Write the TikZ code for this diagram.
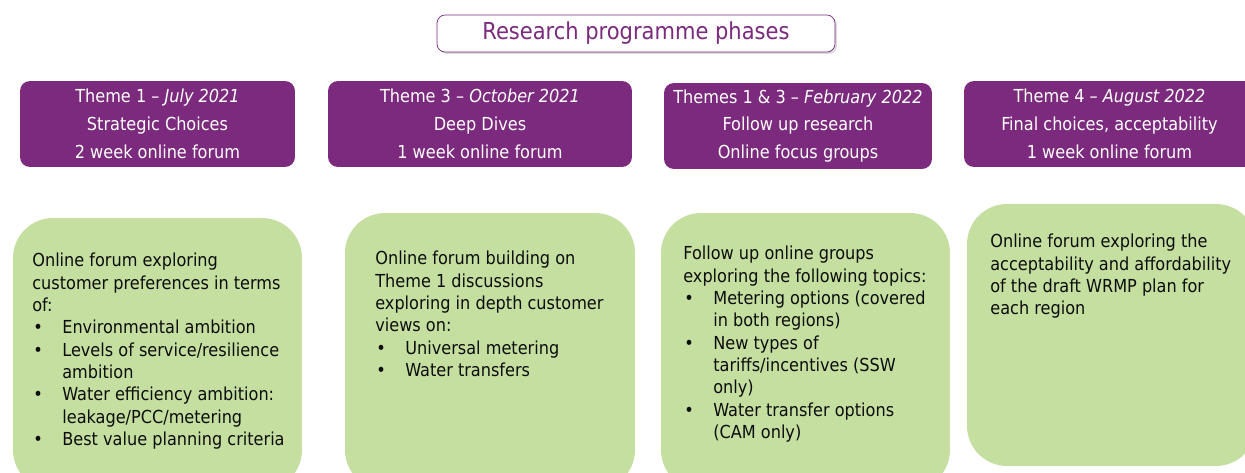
\documentclass[tikz,border=0pt]{standalone}
\usepackage{fontspec}
\setmainfont{DejaVu Sans Condensed}
\usepackage{tikz}
\usetikzlibrary{positioning, shadows}

\definecolor{phasepurple}{HTML}{7B2A7E}
\definecolor{notegreen}{HTML}{C4DFA0}
\newcommand{\bul}{\makebox[0.6cm][l]{\hspace{0.02cm}\textbullet}}
\newcommand{\ind}{\hspace*{0.6cm}}

\tikzset{
    phase/.style={fill=phasepurple, rounded corners=0.2cm, text=white, align=center,
        font=\fontsize{10.2}{15.9}\selectfont, minimum height=1.72cm},
    note/.style={fill=notegreen, rounded corners=0.8cm},
    notetext/.style={anchor=north west, inner sep=0pt, align=left, text=black!95,
        font=\fontsize{10.2}{12.7}\selectfont}
}

\begin{document}
\begin{tikzpicture}[x=0.02cm, y=-0.02cm]
        \useasboundingbox (0,0) rectangle (1245,473);
        \clip (0,0) rectangle (1245,473);

        % title
        \node[draw=phasepurple, fill=white, rounded corners=0.16cm, minimum width=7.96cm,
            minimum height=0.74cm, text=phasepurple, font=\fontsize{13.3}{15}\selectfont,
            drop shadow={shadow xshift=0.04cm, shadow yshift=-0.04cm, opacity=0.3}]
            (title) at (636,33.5) {Research programme phases};

        % phases
        \node[phase, minimum width=5.5cm] (th1) at (157.5,124)
            {Theme 1 -- \textit{July 2021}\\Strategic Choices\\2 week online forum};
        \node[phase, minimum width=6.08cm] (th3) at (480,124)
            {Theme 3 -- \textit{October 2021}\\Deep Dives\\1 week online forum};
        \node[phase, minimum width=5.36cm] (th13) at (798,126)
            {Themes 1 \& 3 -- \textit{February 2022}\\Follow up research\\Online focus groups};
        \node[phase, minimum width=5.82cm] (th4) at (1109.5,124)
            {Theme 4 -- \textit{August 2022}\\Final choices, acceptability\\1 week online forum};

        % green boxes
        \node[note, minimum width=5.78cm, minimum height=5.44cm] (g1) at (157.5,354) {};
        \node[note, minimum width=5.8cm, minimum height=5.54cm] (g3) at (490,351.5) {};
        \node[note, minimum width=5.78cm, minimum height=5.54cm] (g13) at (805.5,351.5) {};
        \node[note, minimum width=5.78cm, minimum height=5.24cm] (g4) at (1111.5,335) {};

        % texts
        \node[notetext] (n1) at (32,253) {Online forum exploring\\customer preferences in terms\\of:\\
            \bul Environmental ambition\\\bul Levels of service/resilience\\\ind ambition\\
            \bul Water efficiency ambition:\\\ind leakage/PCC/metering\\\bul Best value planning criteria};
        \node[notetext] (n3) at (375,251) {Online forum building on\\Theme 1 discussions\\
            exploring in depth customer\\views on:\\\bul Universal metering\\\bul Water transfers};
        \node[notetext] (n13) at (683,246) {Follow up online groups\\exploring the following topics:\\
            \bul Metering options (covered\\\ind in both regions)\\\bul New types of\\
            \ind tariffs/incentives (SSW\\\ind only)\\\bul Water transfer options\\\ind (CAM only)};
        \node[notetext] (n4) at (990,234) {Online forum exploring the\\acceptability and affordability\\
            of the draft WRMP plan for\\each region};
\end{tikzpicture}
\end{document}
